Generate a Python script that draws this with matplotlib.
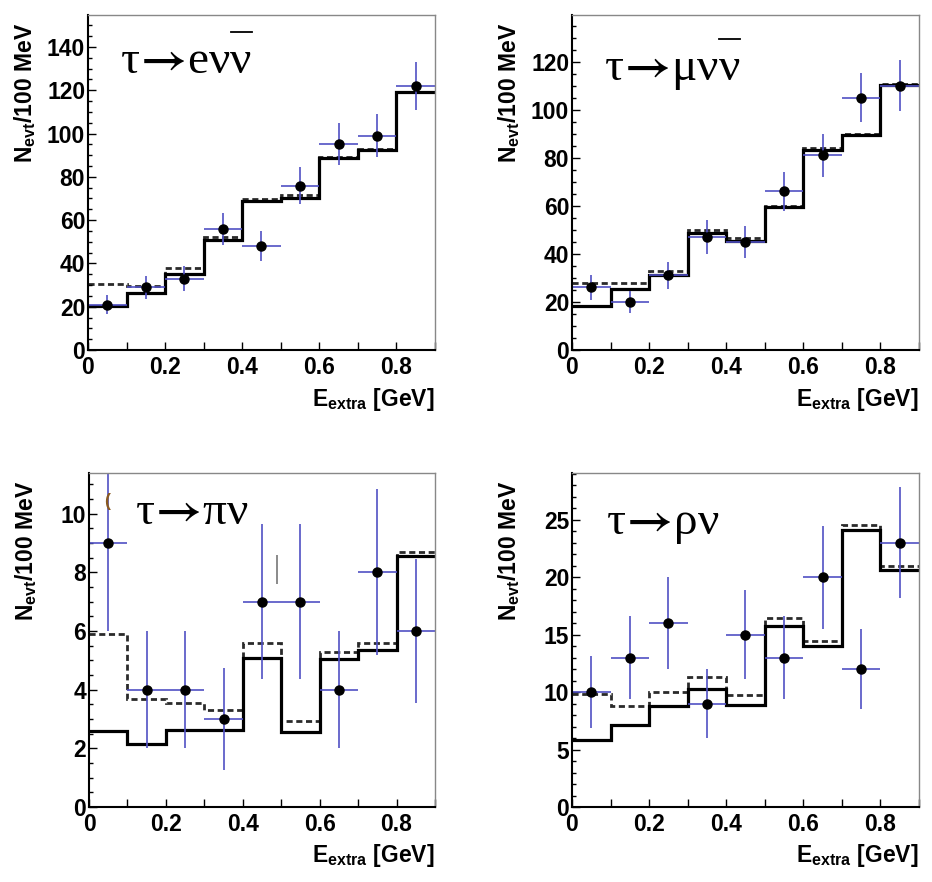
import numpy as np
import matplotlib
matplotlib.use('Agg')
import matplotlib.pyplot as plt
from matplotlib.ticker import MultipleLocator

plt.rcParams['font.family'] = 'Liberation Sans'
plt.rcParams['font.weight'] = 'bold'
plt.rcParams['mathtext.fontset'] = 'custom'
plt.rcParams['mathtext.rm'] = 'Liberation Sans:bold'
plt.rcParams['mathtext.it'] = 'Liberation Sans:bold'
plt.rcParams['mathtext.bf'] = 'Liberation Sans:bold'

# bins in E_extra [GeV]
edges = [0.0, 0.1, 0.2, 0.3, 0.4, 0.5, 0.6, 0.7, 0.8, 0.9]
centers = [0.05, 0.15, 0.25, 0.35, 0.45, 0.55, 0.65, 0.75, 0.85]
xtick_vals = [0, 0.2, 0.4, 0.6, 0.8]
xtick_labels = ['0', '0.2', '0.4', '0.6', '0.8']

# tau -> e nu nubar
e_data = [21, 29, 33, 56, 48, 76, 95, 99, 122]
e_err = [4.6, 5.4, 5.7, 7.5, 6.9, 8.7, 9.7, 9.9, 11.0]
e_solid = [20.3, 26.5, 35.0, 51.0, 69.0, 70.0, 88.6, 92.3, 119.0]
e_dash = [30.3, 29.5, 37.7, 52.3, 69.8, 71.5, 89.0, 93.0, 119.3]

# tau -> mu nu nubar
mu_data = [26, 20, 31, 47, 45, 66, 81, 105, 110]
mu_err = [5.1, 4.5, 5.6, 6.9, 6.7, 8.1, 9.0, 10.2, 10.5]
mu_solid = [18.3, 25.5, 31.0, 48.5, 45.5, 59.4, 83.2, 89.5, 110.3]
mu_dash = [27.7, 28.0, 33.0, 50.0, 46.5, 60.0, 84.0, 89.7, 110.5]

# tau -> pi nu
pi_data = [9, 4, 4, 3, 7, 7, 4, 8, 6]
pi_err = [3.0, 2.0, 2.0, 1.73, 2.65, 2.65, 2.0, 2.83, 2.45]
pi_solid = [2.59, 2.14, 2.64, 2.64, 5.09, 2.55, 5.05, 5.36, 8.55]
pi_dash = [5.9, 3.69, 3.55, 3.32, 5.59, 2.93, 5.3, 5.59, 8.68]

# tau -> rho nu
rho_data = [10, 13, 16, 9, 15, 13, 20, 12, 23]
rho_err = [3.16, 3.6, 4.0, 3.0, 3.87, 3.6, 4.47, 3.46, 4.8]
rho_solid = [5.8, 7.1, 8.79, 10.3, 8.85, 15.75, 14.0, 24.07, 20.65]
rho_dash = [9.86, 8.76, 10.0, 11.3, 9.77, 16.4, 14.4, 24.5, 21.0]

blue = '#5050c4'
title_size = 34
serif = 'Liberation Serif'
arrow = r'$\!\rightarrow\!$'

fig = plt.figure(figsize=(9.32, 8.82), dpi=100)

# axes boxes in figure fractions
boxes = [
    [0.0944, 0.6032, 0.3723, 0.3798],
    [0.6137, 0.6032, 0.3723, 0.3798],
    [0.0955, 0.0850, 0.3712, 0.3785],
    [0.6137, 0.0850, 0.3723, 0.3785],
]

panels = [
    (e_data, e_err, e_solid, e_dash, 154.8, 20, 5, '\u03c4' + arrow + 'e\u03bd\u03bd', (0.092, 0.827), True),
    (mu_data, mu_err, mu_solid, mu_dash, 139.4, 20, 5, '\u03c4' + arrow + '\u03bc\u03bd\u03bd', (0.092, 0.806), True),
    (pi_data, pi_err, pi_solid, pi_dash, 11.38, 2, 0.5, '\u03c4' + arrow + '\u03c0\u03bd', (0.133, 0.849), False),
    (rho_data, rho_err, rho_solid, rho_dash, 29.04, 5, 1, '\u03c4' + arrow + '\u03c1\u03bd', (0.098, 0.819), False),
]

axes = []
titles = []
for box, (data, err, solid, dash, ymax, ymaj, ymin, title, tpos, bar) in zip(boxes, panels):
    ax = fig.add_axes(box)
    ax.stairs(dash, edges, baseline=None, color='#2a2a2a', lw=2.0, ls=(0, (2.2, 1.3)))
    ax.stairs(solid, edges, baseline=None, color='black', lw=2.3)
    ax.errorbar(centers, data, xerr=0.05, yerr=err, fmt='o', color='black', ms=6.5,
                ecolor=blue, elinewidth=1.2, capsize=0)

    ax.set_xlim(0, 0.9)
    ax.set_ylim(0, ymax)
    ax.set_xticks(xtick_vals, labels=xtick_labels)
    ax.xaxis.set_minor_locator(MultipleLocator(0.1))
    ax.yaxis.set_major_locator(MultipleLocator(ymaj))
    ax.yaxis.set_minor_locator(MultipleLocator(ymin))
    ax.tick_params(which='both', direction='in', labelsize=16.5, width=1)
    ax.tick_params(axis='y', which='major', length=6, pad=2)
    ax.tick_params(axis='y', which='minor', length=3)
    ax.tick_params(axis='x', which='major', length=6, pad=4)
    ax.tick_params(axis='x', which='minor', length=5.5)
    for lab in ax.get_xticklabels() + ax.get_yticklabels():
        lab.set_fontweight('bold')

    ax.spines['left'].set_linewidth(1.5)
    ax.spines['bottom'].set_linewidth(1.5)
    ax.spines['top'].set_color('#888888')
    ax.spines['right'].set_color('#888888')
    ax.spines['top'].set_linewidth(1)
    ax.spines['right'].set_linewidth(1)

    ax.text(-0.181, 0.977, r'N$_{\rm evt}$/100 MeV', transform=ax.transAxes, rotation=90,
            ha='center', va='top', fontsize=16.5, fontweight='bold')
    ax.text(1.0, -0.166, r'E$_{\rm extra}$ [GeV]', transform=ax.transAxes,
            ha='right', va='baseline', fontsize=16.5, fontweight='bold')

    t = ax.text(tpos[0], tpos[1], title, transform=ax.transAxes, ha='left', va='baseline',
                fontsize=title_size, family=serif, fontweight='normal', math_fontfamily='stix')
    axes.append(ax)
    titles.append((t, tpos, bar))

# stray marks visible in the pi panel
axes[2].vlines([0.49], 7.6, 8.6, color='#777777', lw=1.2)
axes[2].text(0.047, 10.4, '(', fontsize=13, color='#8a5a20', ha='center', va='center')

# bar over the antineutrino
fig.canvas.draw()
r = fig.canvas.get_renderer()
em = title_size * fig.dpi / 72
for ax, (t, tpos, bar) in zip(axes, titles):
    if not bar:
        continue
    bb = t.get_window_extent(r)
    tmp = ax.text(0, 0, '\u03bd', fontsize=title_size, family=serif, fontweight='normal')
    w = tmp.get_window_extent(r).width
    tmp.remove()
    inv = ax.transAxes.inverted()
    x0, _ = inv.transform((bb.x1 - w, 0))
    x1, _ = inv.transform((bb.x1, 0))
    _, yb = inv.transform(ax.transAxes.transform((0, tpos[1])) + np.array([0, 0.87 * em]))
    ax.plot([x0, x1], [yb, yb], transform=ax.transAxes, color='black', lw=1.3, clip_on=False)

fig.savefig('out.png', dpi=100)
